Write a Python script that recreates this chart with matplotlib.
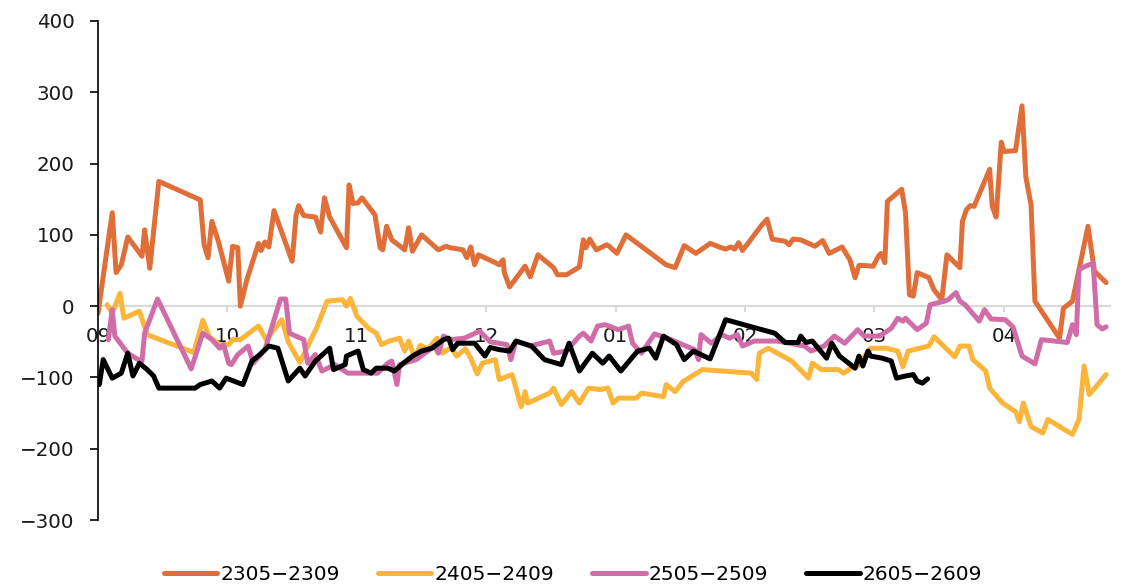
import matplotlib
matplotlib.use("Agg")
import matplotlib.pyplot as plt

plt.rcParams['font.family'] = ['DejaVu Sans']

# x positions are in "months since start of September" (09 = 0, 10 = 1, ...)
month_labels = ["09", "10", "11", "12", "01", "02", "03", "04"]
series_names = ["2305\u22122309", "2405\u22122409", "2505\u22122509", "2605\u22122609"]
series_colors = ["#E06E38", "#FBB53A", "#D06DA8", "#000000"]

x_2305 = [0.00, 0.11, 0.14, 0.18, 0.23, 0.34, 0.36, 0.40, 0.47, 0.79,
          0.82, 0.85, 0.88, 0.93, 1.01, 1.04, 1.08, 1.10, 1.15, 1.24,
          1.26, 1.29, 1.32, 1.36, 1.50, 1.53, 1.55, 1.59, 1.68, 1.72,
          1.75, 1.79, 1.92, 1.94, 1.97, 2.01, 2.04, 2.14, 2.18, 2.20,
          2.23, 2.27, 2.37, 2.40, 2.43, 2.50, 2.63, 2.69, 2.72, 2.82,
          2.85, 2.88, 2.91, 2.94, 3.07, 3.10, 3.13, 3.14, 3.18, 3.30,
          3.34, 3.40, 3.52, 3.55, 3.62, 3.72, 3.75, 3.77, 3.80, 3.85,
          3.93, 3.95, 4.01, 4.08, 4.39, 4.46, 4.53, 4.62, 4.73, 4.80,
          4.85, 4.89, 4.92, 4.95, 4.98, 5.13, 5.17, 5.21, 5.31, 5.34,
          5.37, 5.43, 5.54, 5.60, 5.65, 5.75, 5.81, 5.85, 5.88, 5.92,
          5.99, 6.03, 6.05, 6.08, 6.10, 6.21, 6.24, 6.27, 6.30, 6.33,
          6.42, 6.46, 6.52, 6.56, 6.66, 6.68, 6.71, 6.74, 6.77, 6.89,
          6.91, 6.94, 6.98, 7.00, 7.09, 7.14, 7.17, 7.21, 7.24, 7.43,
          7.46, 7.53, 7.65, 7.70, 7.79]
y_2305 = [-10, 131, 47, 58, 97, 70, 107, 53, 175, 149,
          86, 68, 119, 91, 35, 84, 82, 0, 37, 88,
          78, 90, 83, 134, 63, 127, 141, 127, 125, 104,
          152, 125, 82, 170, 144, 145, 152, 128, 82, 79,
          112, 93, 79, 110, 77, 100, 79, 84, 82, 79,
          68, 83, 58, 72, 61, 58, 65, 47, 27, 56,
          41, 72, 54, 44, 44, 55, 93, 82, 94, 79,
          86, 84, 74, 100, 58, 54, 85, 74, 88, 83,
          80, 83, 80, 89, 78, 114, 122, 94, 91, 86,
          94, 93, 84, 92, 74, 83, 65, 40, 57, 57,
          56, 70, 74, 61, 147, 164, 131, 16, 14, 47,
          40, 23, 9, 72, 54, 119, 135, 141, 140, 192,
          140, 125, 230, 217, 218, 281, 181, 142, 7, -45,
          -3, 7, 112, 49, 33]

x_2405 = [0.07, 0.11, 0.17, 0.20, 0.32, 0.38, 0.74, 0.81, 0.86, 0.94,
          1.01, 1.04, 1.10, 1.24, 1.30, 1.42, 1.47, 1.56, 1.69, 1.77,
          1.89, 1.92, 1.95, 2.00, 2.09, 2.15, 2.19, 2.25, 2.33, 2.37,
          2.40, 2.45, 2.49, 2.55, 2.62, 2.66, 2.73, 2.77, 2.84, 2.88,
          2.93, 2.97, 3.07, 3.10, 3.20, 3.27, 3.30, 3.32, 3.49, 3.52,
          3.58, 3.66, 3.72, 3.79, 3.88, 3.94, 3.98, 4.02, 4.16, 4.20,
          4.37, 4.39, 4.46, 4.52, 4.67, 5.05, 5.09, 5.11, 5.18, 5.25,
          5.36, 5.49, 5.52, 5.59, 5.72, 5.76, 5.82, 5.87, 5.97, 6.09,
          6.18, 6.22, 6.26, 6.42, 6.46, 6.62, 6.66, 6.73, 6.76, 6.86,
          6.89, 6.99, 7.09, 7.12, 7.15, 7.21, 7.30, 7.34, 7.53, 7.58,
          7.62, 7.66, 7.79]
y_2405 = [2, -10, 18, -17, -7, -40, -65, -20, -43, -54,
          -54, -47, -47, -28, -47, -19, -50, -79, -30, 7,
          9, 0, 11, -14, -31, -38, -54, -49, -45, -63,
          -49, -73, -55, -60, -45, -66, -58, -70, -60, -73,
          -95, -80, -75, -103, -96, -141, -120, -136, -122, -115,
          -138, -120, -136, -115, -117, -115, -136, -129, -129, -122,
          -127, -110, -120, -106, -89, -94, -103, -66, -59, -66,
          -77, -101, -80, -89, -89, -94, -87, -84, -59, -59,
          -63, -85, -63, -56, -43, -71, -56, -56, -75, -91,
          -115, -136, -148, -162, -136, -169, -178, -159, -180, -159,
          -84, -124, -96]

x_2505 = [0.08, 0.11, 0.13, 0.23, 0.31, 0.34, 0.36, 0.46, 0.72, 0.81,
          0.88, 0.94, 0.97, 1.01, 1.03, 1.08, 1.16, 1.20, 1.29, 1.41,
          1.45, 1.48, 1.59, 1.62, 1.68, 1.73, 1.83, 1.93, 2.05, 2.16,
          2.24, 2.27, 2.31, 2.33, 2.46, 2.60, 2.63, 2.67, 2.72, 2.83,
          2.95, 3.03, 3.16, 3.19, 3.23, 3.34, 3.49, 3.52, 3.62, 3.72,
          3.75, 3.81, 3.86, 3.92, 4.02, 4.10, 4.13, 4.20, 4.30, 4.40,
          4.61, 4.64, 4.66, 4.74, 4.82, 4.88, 4.94, 4.98, 5.07, 5.25,
          5.46, 5.51, 5.61, 5.69, 5.77, 5.87, 5.92, 6.04, 6.13, 6.18,
          6.22, 6.24, 6.33, 6.40, 6.43, 6.54, 6.57, 6.63, 6.66, 6.70,
          6.81, 6.85, 6.90, 7.01, 7.07, 7.14, 7.24, 7.29, 7.49, 7.53,
          7.56, 7.58, 7.63, 7.69, 7.72, 7.76, 7.79]
y_2505 = [-47, -5, -42, -66, -75, -77, -38, 10, -88, -38,
          -47, -59, -54, -80, -82, -68, -56, -80, -61, 10,
          10, -38, -47, -80, -68, -91, -82, -94, -94, -94,
          -80, -77, -110, -82, -75, -56, -66, -42, -47, -45,
          -35, -50, -54, -75, -49, -56, -49, -66, -63, -42,
          -38, -49, -28, -26, -33, -28, -52, -66, -39, -45,
          -61, -75, -40, -52, -40, -45, -40, -56, -49, -49,
          -56, -63, -56, -42, -52, -33, -42, -42, -31, -17,
          -21, -17, -33, -24, 2, 7, 9, 19, 7, 2,
          -21, -5, -18, -19, -29, -70, -81, -47, -51, -26,
          -40, 51, 56, 60, -26, -32, -29]

x_2605 = [0.01, 0.04, 0.11, 0.18, 0.23, 0.27, 0.32, 0.38, 0.43, 0.47,
          0.75, 0.79, 0.88, 0.94, 0.99, 1.12, 1.19, 1.25, 1.32, 1.39,
          1.47, 1.56, 1.60, 1.68, 1.79, 1.82, 1.91, 1.92, 2.01, 2.05,
          2.11, 2.15, 2.24, 2.29, 2.36, 2.43, 2.50, 2.58, 2.67, 2.71,
          2.74, 2.78, 2.91, 2.99, 3.03, 3.10, 3.18, 3.23, 3.35, 3.45,
          3.58, 3.64, 3.72, 3.82, 3.90, 3.95, 4.04, 4.17, 4.26, 4.31,
          4.37, 4.47, 4.53, 4.60, 4.73, 4.85, 5.23, 5.31, 5.41, 5.43,
          5.47, 5.52, 5.63, 5.67, 5.73, 5.85, 5.88, 5.91, 5.95, 5.97,
          6.06, 6.13, 6.17, 6.24, 6.30, 6.33, 6.37, 6.41]
y_2605 = [-110, -75, -101, -94, -66, -98, -80, -89, -98, -115,
          -115, -110, -105, -115, -101, -110, -77, -68, -56, -59,
          -105, -87, -98, -77, -59, -89, -82, -70, -63, -89,
          -94, -87, -87, -91, -80, -70, -63, -59, -47, -45,
          -61, -52, -52, -70, -58, -61, -63, -49, -56, -75,
          -82, -52, -91, -66, -80, -70, -91, -63, -59, -73,
          -42, -54, -75, -63, -74, -19, -38, -51, -51, -42,
          -51, -49, -73, -52, -70, -87, -70, -84, -63, -70,
          -73, -77, -101, -98, -96, -105, -108, -102]

y_ticks = [-300, -200, -100, 0, 100, 200, 300, 400]

xs = [x_2305, x_2405, x_2505, x_2605]
ys = [y_2305, y_2405, y_2505, y_2605]

fig = plt.figure(figsize=(11.23, 5.85), dpi=100)
ax = fig.add_axes([98/1123, 65/585, (1110-98)/1123, (520-21)/585])

for x, y, name, col in zip(xs, ys, series_names, series_colors):
    ax.plot(x, y, color=col, lw=3.6, label=name, solid_joinstyle='round',
            solid_capstyle='round')

ax.set_ylim(-300, 400)
ax.set_xlim(0, 7.82)
ax.set_yticks(y_ticks)
ax.set_xticks(range(len(month_labels)))
ax.set_xticklabels(month_labels)

for s in ['top', 'right']:
    ax.spines[s].set_visible(False)
ax.spines['left'].set_color('black')
ax.spines['left'].set_linewidth(1.2)
ax.spines['bottom'].set_position(('data', 0))
ax.spines['bottom'].set_color('#D9D9D9')
ax.spines['bottom'].set_linewidth(1.5)
ax.spines['bottom'].set_zorder(0)

ax.tick_params(axis='y', direction='out', length=5.8, width=1.2, color='black',
               labelsize=14.3, pad=11, labelcolor='#1a1a1a')
ax.tick_params(axis='x', direction='out', length=4, width=1.5, color='#D9D9D9',
               labelsize=14.3, pad=11, labelcolor='#1a1a1a')

fig.legend(loc='lower center', bbox_to_anchor=(573/1123, -0.03), ncol=4,
           frameon=False, fontsize=14.5, handlelength=2.65, handletextpad=0.15,
           columnspacing=1.9)

fig.savefig("out.png", dpi=100)
